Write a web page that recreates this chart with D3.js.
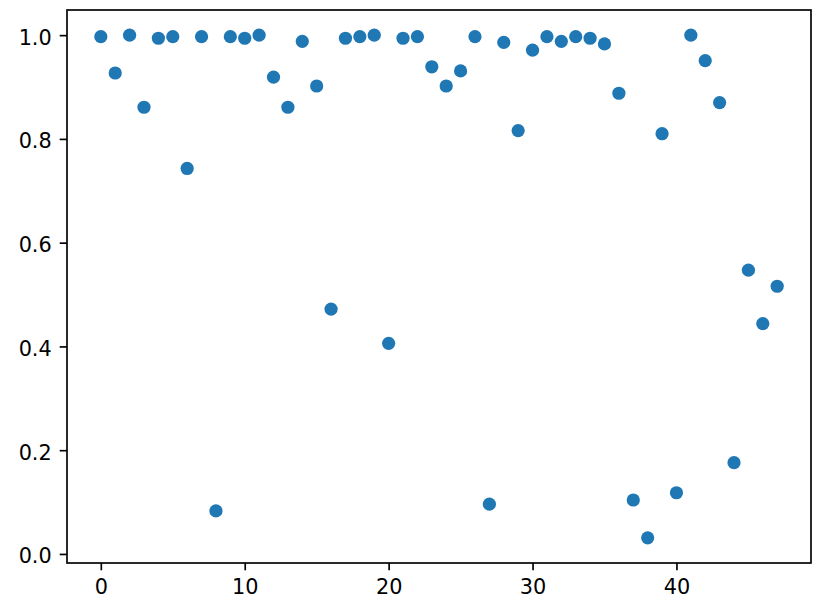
<!DOCTYPE html>
<html>
<head>
<meta charset="utf-8">
<script src="https://cdn.jsdelivr.net/npm/d3@7"></script>
<style>
  html, body { margin: 0; padding: 0; background: #fff; }
  svg { display: block; }
  text { font-family: "DejaVu Sans", sans-serif; }
</style>
</head>
<body>
<svg id="chart" width="822" height="612"></svg>
<script>
// Data
const indices = d3.range(48);
const values = [
  0.997, 0.927, 1.000, 0.861, 0.994, 0.997, 0.743, 0.997, 0.083, 0.997,
  0.994, 1.000, 0.919, 0.861, 0.988, 0.902, 0.472, 0.994, 0.997, 1.000,
  0.406, 0.994, 0.997, 0.939, 0.902, 0.931, 0.997, 0.096, 0.986, 0.816,
  0.971, 0.997, 0.988, 0.997, 0.994, 0.983, 0.888, 0.104, 0.031, 0.810,
  0.118, 1.000, 0.951, 0.870, 0.176, 0.547, 0.444, 0.516
];
const xTicks = [0, 10, 20, 30, 40];
const yTicks = [0.0, 0.2, 0.4, 0.6, 0.8, 1.0];

const svg = d3.select("#chart");
const plotLeft = 67, plotRight = 811, plotTop = 10, plotBottom = 563;

const xExt = d3.extent(indices);
const xPad = (xExt[1] - xExt[0]) * 0.05;
const x = d3.scaleLinear().domain([xExt[0] - xPad, xExt[1] + xPad]).range([plotLeft, plotRight]);
const yExt = d3.extent(values);
const yPad = (yExt[1] - yExt[0]) * 0.05;
const y = d3.scaleLinear().domain([yExt[0] - yPad, yExt[1] + yPad]).range([plotBottom, plotTop]);

// Points
svg.append("g").selectAll("circle")
  .data(values)
  .join("circle")
  .attr("cx", (d, i) => x(indices[i]))
  .attr("cy", d => y(d))
  .attr("r", 6.6)
  .attr("fill", "#1f77b4");

const tickLen = 7.3;
const fontSize = 20.8;

// X axis
const xAxis = svg.append("g")
  .attr("transform", `translate(0,${plotBottom})`)
  .call(d3.axisBottom(x).tickValues(xTicks).tickFormat(d3.format("d")).tickSize(tickLen).tickPadding(8.9));
xAxis.select(".domain").remove();
xAxis.selectAll(".tick line").attr("stroke", "#000").attr("stroke-width", 1.67);
xAxis.selectAll(".tick text").attr("font-size", fontSize).attr("font-family", "DejaVu Sans").attr("fill", "#000");

// Y axis
const yAxis = svg.append("g")
  .attr("transform", `translate(${plotLeft},0)`)
  .call(d3.axisLeft(y).tickValues(yTicks).tickFormat(d3.format(".1f")).tickSize(tickLen).tickPadding(8));
yAxis.select(".domain").remove();
yAxis.selectAll(".tick line").attr("stroke", "#000").attr("stroke-width", 1.67);
yAxis.selectAll(".tick text").attr("font-size", fontSize).attr("font-family", "DejaVu Sans").attr("fill", "#000").attr("dy", "9px");

// Spines
svg.append("rect")
  .attr("x", plotLeft).attr("y", plotTop)
  .attr("width", plotRight - plotLeft).attr("height", plotBottom - plotTop)
  .attr("fill", "none").attr("stroke", "#000").attr("stroke-width", 1.67);
</script>
</body>
</html>
